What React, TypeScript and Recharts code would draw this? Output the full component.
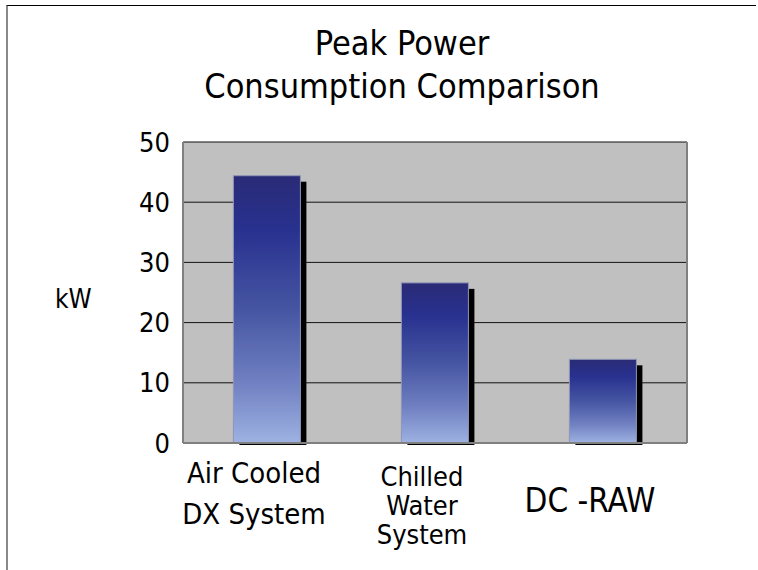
import { BarChart, Bar, XAxis, YAxis, CartesianGrid } from 'recharts'

const categories = ['Air Cooled\nDX System', 'Chilled\nWater\nSystem', 'DC -RAW']
const peakKw = [44.4, 26.6, 13.9]
const yTicks = [0, 10, 20, 30, 40, 50]
const titleLines = ['Peak Power', 'Consumption Comparison']

const data = categories.map((name, i) => ({ name, kw: peakKw[i] }))

const FONT = '"DejaVu Sans Condensed", "Liberation Sans", Arial, sans-serif'

// per-label look (the original has uneven leading per category)
const labelLook = [
  { size: 29, lead: 41, first: 32 },
  { size: 27, lead: 29, first: 35 },
  { size: 33, lead: 30, first: 61 },
]

function CategoryTick(props: any) {
  const { x, y, payload, index } = props
  const look = labelLook[index] ?? labelLook[0]
  const lines = String(payload.value).split('\n')
  return (
    <text x={x - 13} y={y} textAnchor="middle" fontSize={look.size} fontFamily={FONT} fill="#000">
      {lines.map((l, i) => (
        <tspan key={i} x={x - 13} y={y + look.first + i * look.lead}>
          {l}
        </tspan>
      ))}
    </text>
  )
}

function ShadowBar(props: any) {
  const { x, y, width, height } = props
  if (!height || height <= 0) return null
  return (
    <g>
      <rect x={x + 6} y={y + 6} width={width} height={height - 4} fill="#000" />
      <rect x={x} y={y} width={width} height={height} fill="url(#barFill)" stroke="#9096b8" strokeWidth={1} />
    </g>
  )
}

export default function App() {
  return (
    <div style={{ position: 'absolute', left: 0, top: 0, width: 758, height: 570, background: '#fff' }}>
      <div
        style={{
          position: 'absolute',
          left: 6,
          top: 5,
          width: 750,
          height: 565,
          borderLeft: '2px solid #888',
          borderTop: '1px solid #000',
          boxSizing: 'border-box',
        }}
      />
      <div
        style={{
          position: 'absolute',
          left: 0,
          top: 22,
          width: 804,
          textAlign: 'center',
          fontFamily: FONT,
          fontSize: 34,
          lineHeight: '43px',
          color: '#000',
        }}
      >
        {titleLines.map((t) => (
          <div key={t}>{t}</div>
        ))}
      </div>
      <BarChart
        width={758}
        height={570}
        data={data}
        margin={{ top: 142, right: 71, bottom: 0, left: 0 }}
        barCategoryGap="30%"
      >
        <defs>
          <linearGradient id="barFill" x1="0" y1="0" x2="0" y2="1">
            <stop offset="0%" stopColor="#2a2b76" />
            <stop offset="20%" stopColor="#28318f" />
            <stop offset="50%" stopColor="#4655a2" />
            <stop offset="78%" stopColor="#7181c2" />
            <stop offset="100%" stopColor="#9eb2e2" />
          </linearGradient>
        </defs>
        <CartesianGrid fill="#c0c0c0" stroke="#111" vertical={false} />
        <CartesianGrid
          horizontal={false}
          stroke="#808080"
          strokeWidth={2}
          verticalCoordinatesGenerator={({ offset }: any) => [offset.left, offset.left + offset.width]}
        />
        <XAxis
          dataKey="name"
          height={127}
          interval={0}
          tick={<CategoryTick />}
          tickLine={false}
          axisLine={{ stroke: '#808080', strokeWidth: 2 }}
        />
        <XAxis
          xAxisId="top"
          dataKey="name"
          orientation="top"
          height={0}
          tick={false}
          tickLine={false}
          axisLine={{ stroke: '#808080', strokeWidth: 2 }}
        />
        <YAxis
          width={183}
          domain={[0, 50]}
          ticks={yTicks}
          interval={0}
          tickLine={false}
          tickSize={0}
          tickMargin={13}
          axisLine={{ stroke: '#808080', strokeWidth: 2 }}
          tick={{ fontSize: 27, fontFamily: FONT, fill: '#000' }}
          label={{ value: 'kW', position: 'insideLeft', offset: 55, dy: 6, fontSize: 26, fontFamily: FONT, fill: '#000' }}
        />
        <Bar dataKey="kw" shape={<ShadowBar />} isAnimationActive={false} />
      </BarChart>
    </div>
  )
}
